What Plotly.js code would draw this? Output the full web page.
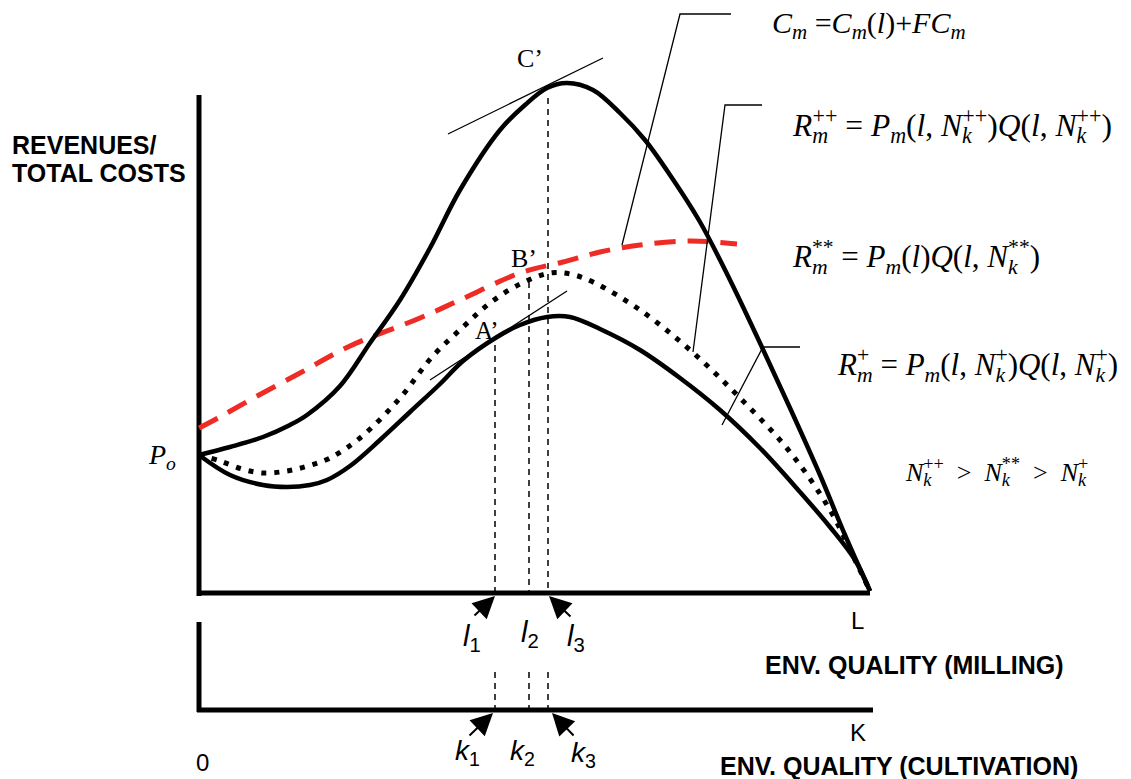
<!DOCTYPE html>
<html>
<head>
<meta charset="utf-8">
<script src="https://cdn.plot.ly/plotly-3.0.1.min.js"></script>
<style>html,body{margin:0;padding:0;background:#fff;}#chart{width:1131px;height:779px;}</style>
</head>
<body>
<div id="chart"></div>
<script>
// ---- Data (x: env. quality measured from origin, L = 671; y: revenues / total costs) ----
const revHighX = [0,31,64,91,108,141,171,201,231,261,301,326,348,368,394,421,446,471,501,531,561,591,621,646,671];
const revHighY = [138,146,156,168,178,207,250,293,345,403,463,488,505,510,503,480,453,418,371,313,250,185,118,58,2];

const revMidX = [0,21,43,64,88,109,131,161,201,233,264,291,321,351,371,394,441,491,541,591,631,656,671];
const revMidY = [138,132,124,120,122,127,135,155,195,236,266,290,309,320,319,311,283,243,195,141,83,33,2];

const revLowX = [0,31,64,88,111,128,151,181,211,241,264,298,321,348,371,401,441,481,521,561,601,631,656,671];
const revLowY = [138,118,108,106,108,113,127,153,181,209,232,256,268,276,276,264,243,215,183,145,101,66,33,2];

const costX = [0,19,51,101,151,221,261,321,364,401,441,491,538];
const costY = [165,175,193,220,247,275,293,320,331,341,348,352,349];

const tangentCX = [249,404];
const tangentCY = [459,535];
const tangentAX = [231,368];
const tangentAY = [213,302];

const optimaL = [296,330,349];          // l1, l2, l3 on the milling axis
const optimaTop = [248,311,495];        // where the guide lines start (A', B', C')
const axisL = 671;
const axisK = 674;
const lowerAxisY = -117;
const lowerAxisTop = -29;
const lowerGuideTop = -79;
const yAxisTop = 498;

const tickLabelsL = ['<i>l</i><sub>1</sub>','<i>l</i><sub>2</sub>','<i>l</i><sub>3</sub>'];
const tickLabelsK = ['<i>k</i><sub>1</sub>','<i>k</i><sub>2</sub>','<i>k</i><sub>3</sub>'];

const traces = [];
const black = '#000';
function line(x, y, width, opts) {
  traces.push({type:'scatter', mode:'lines', x:x, y:y, hoverinfo:'skip',
    line:Object.assign({color:black, width:width}, opts || {})});
}
// axes
line([0,0],[-3,yAxisTop],5);
line([-2,axisL],[0,0],5);
line([0,0],[lowerAxisY-2,lowerAxisTop],5);
line([-2,axisK],[lowerAxisY,lowerAxisY],5);
// guide lines
for (let i=0;i<optimaL.length;i++){
  line([optimaL[i],optimaL[i]],[optimaTop[i],0],1.5,{dash:'6px,5px'});
  line([optimaL[i],optimaL[i]],[lowerGuideTop,lowerAxisY],1.5,{dash:'6px,5px'});
}
// curves
line(costX,costY,5,{color:'#ee2b25',dash:'21px,12px',shape:'spline',smoothing:1});
line(revMidX,revMidY,5,{dash:'5px,8px',shape:'spline',smoothing:1});
line(revLowX,revLowY,4.5,{shape:'spline',smoothing:1});
line(revHighX,revHighY,4.5,{shape:'spline',smoothing:1});
// tangents
line(tangentCX,tangentCY,1.3);
line(tangentAX,tangentAY,1.3);
// leader lines
line([532,481,423],[579,579,348],1.3);
line([563,526,494],[488,488,241],1.3);
line([601,564,523],[246,246,168],1.3);

const serif = 'Liberation Serif, Times New Roman, serif';
const sans = 'Liberation Sans, Arial, sans-serif';
const ann = [];
function txt(x,y,text,size,family,xa,extra){
  ann.push(Object.assign({x:x,y:y,xref:'x',yref:'y',text:text,showarrow:false,
    xanchor:xa||'center',yanchor:'middle',font:{family:family,size:size,color:black}}, extra||{}));
}
function arrow(x,y,ax,ay){
  ann.push({x:x,y:y,ax:ax,ay:ay,xref:'x',yref:'y',axref:'x',ayref:'y',text:'',showarrow:true,
    arrowhead:2,arrowsize:2.2,arrowwidth:2,arrowcolor:black,standoff:0,startstandoff:0});
}
// stacked sub/superscript helper: narrow part drawn first with negative letter spacing
function stack(first, second, firstWidth, firstIsSub){
  const a = '<span style="letter-spacing:-' + firstWidth + 'px">' + first + '</span>';
  return firstIsSub ? '<sub>' + a + '</sub><sup>' + second + '</sup>'
                    : '<sup>' + a + '</sup><sub>' + second + '</sub>';
}
txt(-189,448,'<b>REVENUES/</b>',25,sans,'left');
txt(-189,420,'<b>TOTAL COSTS</b>',25,sans,'left');
txt(-37,137,'<i>P<sub>o</sub></i>',28,serif);
txt(331,535,'C’',26,serif);
txt(325,335,'B’',26,serif);
txt(288,263,'A’',25,serif);
txt(658,-27,'L',24,sans);
txt(659,-139,'K',24,sans);
txt(3,-169,'0',24,sans);
txt(715,-72,'<b>ENV. QUALITY (MILLING)</b>',25,sans);
txt(700,-173,'<b>ENV. QUALITY (CULTIVATION)</b>',25,sans);
const lx=[273,331,377], ly=[-45,-41,-45];
const kx=[268,323,384], ky=[-159,-159,-161];
for(let i=0;i<3;i++){ txt(lx[i],ly[i],tickLabelsL[i],29,sans); txt(kx[i],ky[i],tickLabelsK[i],28,sans); }
arrow(296,-3,274,-24);
arrow(350,-3,373,-25);
arrow(294,-120,269,-144);
arrow(353,-120,376,-144);
// formulas
const mW = 15.7, kW = 9.6, pW = 12.2;
const Rpp = '<i>R</i>' + stack('<i>m</i>','++',mW,true);
const Npp = '<i>N</i>' + stack('<i>k</i>','++',kW,true);
const Rss = '<i>R</i>' + stack('<i>m</i>','**',mW,true);
const Nss = '<i>N</i>' + stack('<i>k</i>','**',kW,true);
const Rp  = '<i>R</i>' + stack('+','<i>m</i>',pW,false);
const Np  = '<i>N</i>' + stack('<i>k</i>','+',kW,true);
const Pm = '<i>P<sub>m</sub></i>';
txt(571,568,'<i>C<sub>m</sub></i> =<i>C<sub>m</sub></i>(<i>l</i>)+<i>FC<sub>m</sub></i>',30,serif,'left');
txt(591,468,Rpp + ' = ' + Pm + '(<i>l</i>, ' + Npp + ')<i>Q</i>(<i>l</i>, ' + Npp + ')',31.5,serif,'left');
txt(591,336,Rss + ' = ' + Pm + '(<i>l</i>)<i>Q</i>(<i>l</i>, ' + Nss + ')',31,serif,'left');
txt(636,228,Rp + ' = ' + Pm + '(<i>l</i>, ' + Np + ')<i>Q</i>(<i>l</i>, ' + Np + ')',31,serif,'left');
const kS = 8.1;
const gt = '&nbsp;&nbsp;&gt;&nbsp;&nbsp;';
txt(704,123,'<i>N</i>' + stack('<i>k</i>','++',kS,true) + gt + '<i>N</i>' + stack('<i>k</i>','**',kS,true) + gt + '<i>N</i>' + stack('<i>k</i>','+',kS,true),26,serif,'left');

const layout = {
  width:1131, height:779, margin:{l:0,r:0,t:0,b:0,pad:0},
  paper_bgcolor:'#fff', plot_bgcolor:'#fff', showlegend:false,
  xaxis:{range:[-199,932], visible:false, fixedrange:true},
  yaxis:{range:[-186,593], visible:false, fixedrange:true},
  annotations: ann
};
Plotly.newPlot('chart', traces, layout, {staticPlot:true, displayModeBar:false});
</script>
</body>
</html>
